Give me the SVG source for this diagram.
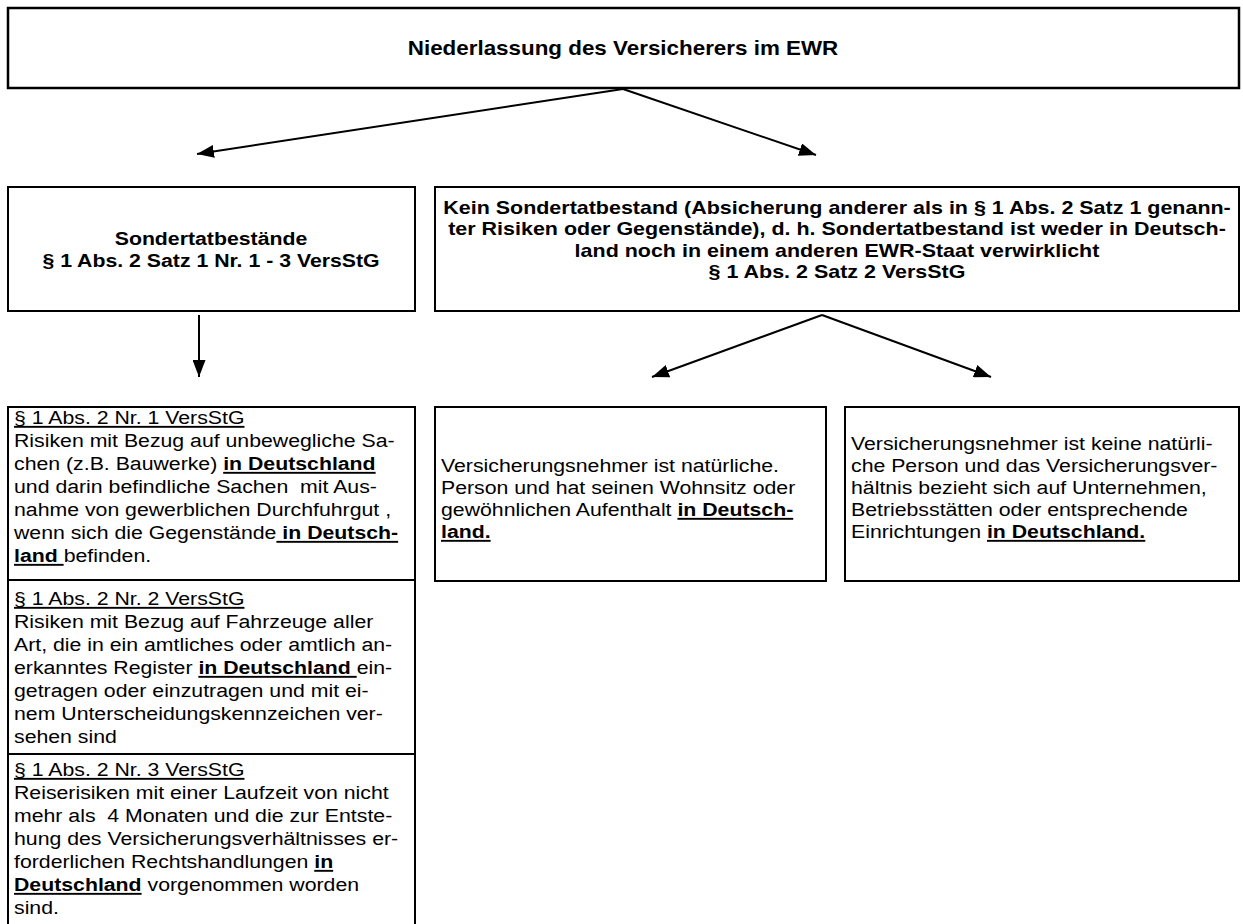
<svg xmlns="http://www.w3.org/2000/svg" width="1243" height="924" viewBox="0 0 1243 924">
<style>
.box{fill:#fff;stroke:#000;stroke-width:2}
.div{stroke:#000;stroke-width:2}
text{font-family:"Liberation Sans",Arial,sans-serif;font-size:19px;fill:#000}
.b{font-weight:bold}
.u{text-decoration:underline}
.c{text-anchor:middle}
.title{font-size:20px}
.conn line{stroke:#000;stroke-width:2;marker-end:url(#ah)}
</style>
<defs>
<marker id="ah" markerUnits="userSpaceOnUse" markerWidth="17" markerHeight="13" refX="17" refY="6.5" orient="auto">
<path d="M0,0 L17,6.5 L0,13 z" fill="#000"/>
</marker>
</defs>
<rect width="1243" height="924" fill="#fff"/>

<g id="n-top">
<rect class="box" x="8" y="8" width="1231" height="80" style="stroke-width:2.5"/>
<g transform="translate(623,0) scale(1.12,1)"><text class="b c title" x="0" y="55">Niederlassung des Versicherers im EWR</text></g>
</g>

<g id="n-sonder">
<rect class="box" x="8" y="187" width="407" height="124"/>
<g transform="translate(211,0) scale(1.12,1)">
<text class="b c" x="0" y="245">Sondertatbestände</text>
<text class="b c" x="0" y="267">§ 1 Abs. 2 Satz 1 Nr. 1 - 3 VersStG</text>
</g>
</g>

<g id="n-kein">
<rect class="box" x="435" y="187" width="804" height="124"/>
<g transform="translate(837,0) scale(1.13,1)">
<text class="b c" x="0" y="214">Kein Sondertatbestand (Absicherung anderer als in § 1 Abs. 2 Satz 1 genann-</text>
<text class="b c" x="0" y="235.5">ter Risiken oder Gegenstände), d. h. Sondertatbestand ist weder in Deutsch-</text>
<text class="b c" x="0" y="257">land noch in einem anderen EWR-Staat verwirklicht</text>
<text class="b c" x="0" y="278.5">§ 1 Abs. 2 Satz 2 VersStG</text>
</g>
</g>

<g id="n-list">
<rect class="box" x="8" y="407" width="407" height="530"/>
<line class="div" x1="8" y1="580" x2="415" y2="580"/>
<line class="div" x1="8" y1="754" x2="415" y2="754"/>
<g transform="translate(14,0) scale(1.12,1)">
<text class="u" x="0" y="424">§ 1 Abs. 2 Nr. 1 VersStG</text>
<text x="0" y="447">Risiken mit Bezug auf unbewegliche Sa-</text>
<text x="0" y="470" xml:space="preserve">chen (z.B. Bauwerke) <tspan class="b u">in Deutschland</tspan></text>
<text x="0" y="493" xml:space="preserve">und darin befindliche Sachen  mit Aus-</text>
<text x="0" y="516" xml:space="preserve">nahme von gewerblichen Durchfuhrgut ,</text>
<text x="0" y="539" xml:space="preserve">wenn sich die Gegenstände<tspan class="b u"> in Deutsch-</tspan></text>
<text x="0" y="562" xml:space="preserve"><tspan class="b u">land </tspan>befinden.</text>

<text class="u" x="0" y="605">§ 1 Abs. 2 Nr. 2 VersStG</text>
<text x="0" y="628">Risiken mit Bezug auf Fahrzeuge aller</text>
<text x="0" y="651">Art, die in ein amtliches oder amtlich an-</text>
<text x="0" y="674" xml:space="preserve">erkanntes Register <tspan class="b u">in Deutschland </tspan>ein-</text>
<text x="0" y="697">getragen oder einzutragen und mit ei-</text>
<text x="0" y="720">nem Unterscheidungskennzeichen ver-</text>
<text x="0" y="743">sehen sind</text>

<text class="u" x="0" y="776">§ 1 Abs. 2 Nr. 3 VersStG</text>
<text x="0" y="799">Reiserisiken mit einer Laufzeit von nicht</text>
<text x="0" y="822" xml:space="preserve">mehr als  4 Monaten und die zur Entste-</text>
<text x="0" y="845">hung des Versicherungsverhältnisses er-</text>
<text x="0" y="868" xml:space="preserve">forderlichen Rechtshandlungen <tspan class="b u">in</tspan></text>
<text x="0" y="891" xml:space="preserve"><tspan class="b u">Deutschland</tspan> vorgenommen worden</text>
<text x="0" y="914">sind.</text>
</g>
</g>

<g id="n-natural">
<rect class="box" x="435" y="407" width="391" height="174"/>
<g transform="translate(441,0) scale(1.12,1)">
<text x="0" y="472">Versicherungsnehmer ist natürliche.</text>
<text x="0" y="494">Person und hat seinen Wohnsitz oder</text>
<text x="0" y="516" xml:space="preserve">gewöhnlichen Aufenthalt <tspan class="b u">in Deutsch-</tspan></text>
<text x="0" y="538"><tspan class="b u">land.</tspan></text>
</g>
</g>

<g id="n-legal">
<rect class="box" x="845" y="407" width="394" height="174"/>
<g transform="translate(851,0) scale(1.12,1)">
<text x="0" y="450">Versicherungsnehmer ist keine natürli-</text>
<text x="0" y="472">che Person und das Versicherungsver-</text>
<text x="0" y="494">hältnis bezieht sich auf Unternehmen,</text>
<text x="0" y="516">Betriebsstätten oder entsprechende</text>
<text x="0" y="538" xml:space="preserve">Einrichtungen <tspan class="b u">in Deutschland.</tspan></text>
</g>
</g>

<g id="connectors" class="conn">
<line x1="623" y1="89" x2="197" y2="154"/>
<line x1="623" y1="89" x2="816" y2="155"/>
<line x1="199" y1="315" x2="199" y2="377"/>
<line x1="822" y1="315" x2="652" y2="377"/>
<line x1="822" y1="315" x2="991" y2="377"/>
</g>
</svg>
